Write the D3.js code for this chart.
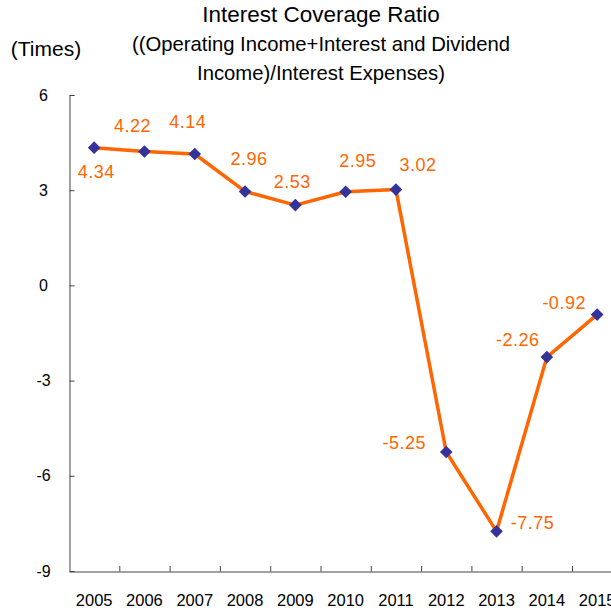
<!DOCTYPE html>
<html>
<head>
<meta charset="utf-8">
<script src="https://cdn.jsdelivr.net/npm/d3@7"></script>
<style>
  body { margin: 0; background: #fff; }
  text { font-family: "Liberation Sans", Arial, sans-serif; }
</style>
</head>
<body>
<div id="holder"></div>
<script>
const w = 611;
const h = 611;

// DATA
const years = ["2005", "2006", "2007", "2008", "2009", "2010", "2011", "2012", "2013", "2014", "2015"];
const ratio = [4.34, 4.22, 4.14, 2.96, 2.53, 2.95, 3.02, -5.25, -7.75, -2.26, -0.92];
const yTicks = [6, 3, 0, -3, -6, -9];

// label placement relative to each point (dx, dy)
const labelOffsets = [[2, 24], [-12, -26], [-7, -32], [4, -33], [-3, -23], [12, -31],
  [22, -25], [-42, -9], [36, -9], [-29, -17], [-33, -12]];

// CREATE SVG
const svg = d3.select("#holder")
  .append("svg")
  .attr("width", w)
  .attr("height", h);

// X SCALE
const xScale = d3.scaleBand()
  .domain(years)
  .range([69, 69 + 11 * 50.3]);

// Y SCALE
const yScale = d3.scaleLinear()
  .domain([-9, 6])
  .range([571, 95]);

// Y AXIS
const yAxis = svg.append("g")
  .attr("transform", "translate(69.5,0)")
  .call(d3.axisRight(yScale).tickValues(yTicks).tickSize(5).tickFormat(d => String(d)));
yAxis.select(".domain").attr("stroke", "#444").attr("d", "M5,95.5H0.5V571.5");
yAxis.selectAll(".tick line").attr("stroke", "#444");
yAxis.selectAll(".tick text")
  .attr("x", -26)
  .attr("text-anchor", "middle")
  .attr("fill", "#000")
  .style("font-size", "16px");

// X AXIS
const xAxis = svg.append("g")
  .attr("transform", "translate(0,571.5)")
  .call(d3.axisTop(xScale).tickSize(0));
xAxis.select(".domain").attr("stroke", "#444");
xAxis.selectAll(".tick text")
  .attr("y", 34)
  .attr("fill", "#000")
  .style("font-size", "16.5px");

// tick marks between categories
svg.append("g")
  .selectAll("line")
  .data(years.slice(1))
  .enter()
  .append("line")
  .attr("x1", d => xScale(d) + 0.5)
  .attr("x2", d => xScale(d) + 0.5)
  .attr("y1", 571.5)
  .attr("y2", 566)
  .attr("stroke", "#444");

// TITLES
svg.append("text")
  .attr("x", 321)
  .attr("y", 22)
  .attr("text-anchor", "middle")
  .style("font-size", "22.5px")
  .text("Interest Coverage Ratio");

svg.append("text")
  .attr("x", 321)
  .attr("y", 51)
  .attr("text-anchor", "middle")
  .style("font-size", "20.3px")
  .text("((Operating Income+Interest and Dividend");

svg.append("text")
  .attr("x", 321)
  .attr("y", 80)
  .attr("text-anchor", "middle")
  .style("font-size", "20.3px")
  .text("Income)/Interest Expenses)");

svg.append("text")
  .attr("x", 46)
  .attr("y", 56)
  .attr("text-anchor", "middle")
  .style("font-size", "21px")
  .text("(Times)");

// LINE
const line = d3.line()
  .x((d, i) => xScale(years[i]) + xScale.bandwidth() / 2)
  .y(d => yScale(d));

svg.append("path")
  .datum(ratio)
  .attr("d", line)
  .attr("fill", "none")
  .attr("stroke", "#FF6600")
  .attr("stroke-width", 3.5)
  .attr("stroke-linejoin", "round");

// DIAMOND MARKERS
svg.selectAll(".dot")
  .data(ratio)
  .enter()
  .append("path")
  .attr("class", "dot")
  .attr("d", d3.symbol(d3.symbolSquare, 80))
  .attr("transform", (d, i) => "translate(" + (xScale(years[i]) + xScale.bandwidth() / 2) + "," + yScale(d) + ") rotate(45)")
  .attr("fill", "#333399");

// DATA LABELS
svg.selectAll(".lbl")
  .data(ratio)
  .enter()
  .append("text")
  .attr("class", "lbl")
  .attr("x", (d, i) => xScale(years[i]) + xScale.bandwidth() / 2 + labelOffsets[i][0])
  .attr("y", (d, i) => yScale(d) + labelOffsets[i][1])
  .attr("dy", "0.35em")
  .attr("text-anchor", "middle")
  .attr("fill", "#FF6600")
  .style("font-size", "18px")
  .style("letter-spacing", "0.5px")
  .text(d => d.toFixed(2));
</script>
</body>
</html>
